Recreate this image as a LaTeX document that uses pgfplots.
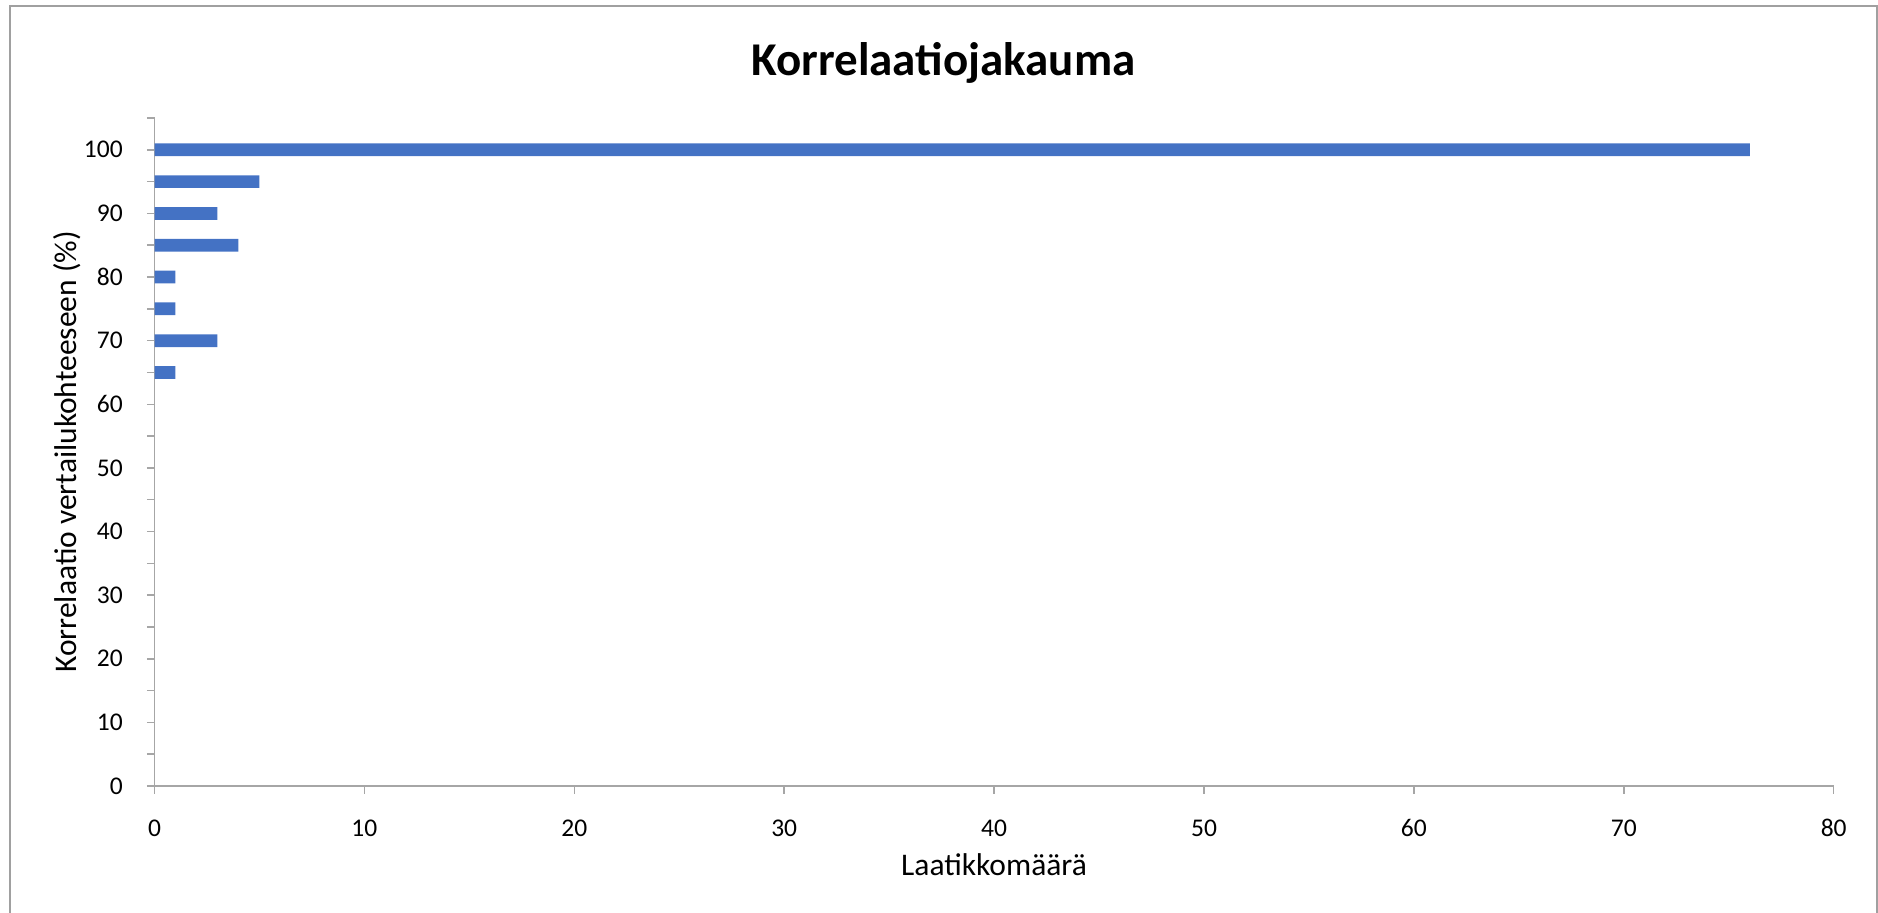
\documentclass[border=0pt]{standalone}
\usepackage{pgfplots}
\pgfplotsset{compat=1.18}
\usepackage{fontspec}
\setmainfont{Carlito}
\definecolor{barblue}{HTML}{4472C4}
\definecolor{axisgray}{HTML}{A6A6A6}
\definecolor{framegray}{HTML}{A0A0A0}
\begin{document}
\begin{tikzpicture}
\useasboundingbox (0,0) rectangle (939pt,456pt);
\draw[framegray, line width=1pt] (5pt,-2pt) -- (5pt,453pt) -- (938.5pt,453pt) -- (938.5pt,-2pt);
\begin{axis}[
  at={(77.25pt,63pt)}, anchor=south west,
  scale only axis, width=839.6pt, height=334pt,
  xbar, bar width=2,
  xmin=0, xmax=80, ymin=0, ymax=105,
  xtick={0,10,...,80}, ytick={0,10,...,100}, minor ytick={5,15,...,105},
  axis x line*=bottom, axis y line*=left,
  axis line style={draw=axisgray, line width=0.75pt},
  tick style={draw=axisgray, line width=0.75pt},
  tick align=outside, major tick length=3.8pt, minor tick length=3.8pt,
  /pgf/number format/assume math mode=true,
  ticklabel style={font=\fontsize{12.75}{15}\selectfont, inner sep=0pt},
  xticklabel style={anchor=base, yshift=-21.6pt},
  yticklabel style={anchor=east, xshift=-11.9pt},
]
\addplot[fill=barblue, draw=none] coordinates {(76,100) (5,95) (3,90) (4,85) (1,80) (1,75) (3,70) (1,65)};
\end{axis}
\node[anchor=base, font=\fontsize{15.75}{18}\selectfont] at (497pt,18.2pt) {Laatikkomäärä};
\node[anchor=base, rotate=90, font=\fontsize{15.75}{18}\selectfont] at (38.5pt,230pt) {Korrelaatio vertailukohteeseen (\%)};
\node[anchor=base, font=\bfseries\fontsize{23.5}{28}\selectfont] at (471.75pt,418.3pt) {Korrelaatiojakauma};
\end{tikzpicture}
\end{document}
